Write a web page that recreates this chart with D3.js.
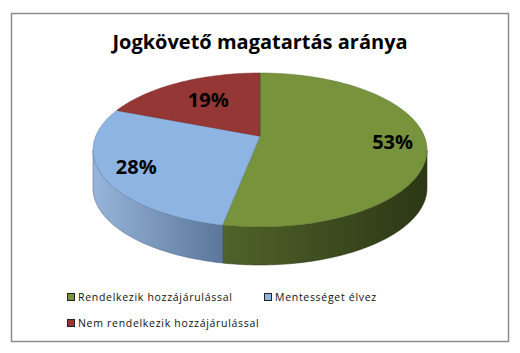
<!DOCTYPE html>
<html>
<head>
<meta charset="utf-8">
<script src="https://cdn.jsdelivr.net/npm/d3@7"></script>
<style>
  body { margin: 0; background: #fff; }
  text { font-family: "Open Sans", "Liberation Sans", Arial, sans-serif; }
</style>
</head>
<body>
<div id="chart"></div>
<script>
{
  const title = "Jogkövető magatartás aránya";
  const categories = ["Rendelkezik hozzájárulással", "Mentességet élvez", "Nem rendelkezik hozzájárulással"];
  const values = [53, 28, 19];

  // colors: top face, wall light -> dark
  const topColors = ["#77933C", "#8DB4E2", "#953735"];
  const wallColors = [["#50632A", "#2C3715"], ["#97B4DA", "#5A769A"], ["#7A2C2A", "#571E1D"]];

  const width = 520;
  const height = 353;
  const cx = 260, cy = 150, rx = 167, ry = 77, depth = 38;
  const tilt = -0.18; // perspective: pie centre sits above ellipse centre

  const svg = d3.select("#chart")
    .append("svg")
    .attr("width", width)
    .attr("height", height);

  svg.append("rect")
    .attr("x", 11.5).attr("y", 13.5)
    .attr("width", 497).attr("height", 328)
    .attr("fill", "#fff")
    .attr("stroke", "#8c8c8c")
    .attr("stroke-width", 1.5);

  svg.append("text")
    .attr("x", width / 2)
    .attr("y", 49)
    .attr("text-anchor", "middle")
    .style("font-size", "20px")
    .style("font-weight", "bold")
    .text(title);

  // project a point of the flat unit pie (angle from 12 o'clock, clockwise) onto the tilted ellipse
  const k = Math.sqrt(1 - tilt * tilt);
  function project(theta, r) {
    const u = r * Math.sin(theta), v = -r * Math.cos(theta);
    const d = 1 + tilt * v;
    return [cx + rx * u * k / d, cy + ry * (v + tilt) / d];
  }

  const pie = d3.pie().sort(null).value(d => d);
  const arcs = pie(values);

  const line = d3.line();
  const steps = 80;
  const frontA = Math.acos(tilt), frontB = 2 * Math.PI - Math.acos(tilt);

  const defs = svg.append("defs");
  const gWalls = svg.append("g");
  const gTops = svg.append("g");

  arcs.forEach((a, i) => {
    // visible outer wall
    const s = Math.max(a.startAngle, frontA), e = Math.min(a.endAngle, frontB);
    if (e > s) {
      const ts = d3.range(steps + 1).map(j => s + (e - s) * j / steps);
      const topPts = ts.map(t => project(t, 1));
      const botPts = topPts.slice().reverse().map(p => [p[0], p[1] + depth]);
      const xs = topPts.map(p => p[0]);
      const grad = defs.append("linearGradient")
        .attr("id", "wall" + i)
        .attr("gradientUnits", "userSpaceOnUse")
        .attr("x1", d3.min(xs)).attr("x2", d3.max(xs))
        .attr("y1", 0).attr("y2", 0);
      grad.append("stop").attr("offset", 0).attr("stop-color", wallColors[i][0]);
      grad.append("stop").attr("offset", 1).attr("stop-color", wallColors[i][1]);
      gWalls.append("path")
        .attr("d", line(topPts.concat(botPts)) + "Z")
        .attr("fill", "url(#wall" + i + ")")
        .attr("stroke", d3.color(wallColors[i][1]).darker(0.6))
        .attr("stroke-width", 0.5);
    }

    // top face
    const ts = d3.range(steps + 1).map(j => a.startAngle + (a.endAngle - a.startAngle) * j / steps);
    const pts = [project(0, 0)].concat(ts.map(t => project(t, 1)));
    gTops.append("path")
      .attr("d", line(pts) + "Z")
      .attr("fill", topColors[i])
      .attr("stroke", d3.color(topColors[i]).darker(0.8))
      .attr("stroke-width", 0.5);
  });

  // percent labels
  const total = d3.sum(values);
  svg.append("g").selectAll("text")
    .data(arcs)
    .enter()
    .append("text")
    .each(function(d) {
      const mid = (d.startAngle + d.endAngle) / 2;
      const r = d.value / total < 0.25 ? 0.65 : 0.8;
      const p = project(mid, r);
      d3.select(this).attr("x", p[0] + (r < 0.8 ? 3 : 0)).attr("y", p[1]);
    })
    .attr("dy", "0.36em")
    .attr("text-anchor", "middle")
    .style("font-size", "20px")
    .style("font-weight", "bold")
    .text(d => Math.round(d.value / total * 100) + "%");

  // legend
  const legend = svg.append("g").selectAll("g")
    .data(categories)
    .enter()
    .append("g")
    .attr("transform", (d, i) => `translate(${i % 2 === 0 ? 67 : 264}, ${297 + Math.floor(i / 2) * 26})`);

  legend.append("rect")
    .attr("x", 0.5).attr("y", -3.5)
    .attr("width", 7).attr("height", 7)
    .attr("fill", (d, i) => topColors[i])
    .attr("stroke", "#222")
    .attr("stroke-width", 1);

  legend.append("text")
    .attr("x", 11)
    .attr("y", 4)
    .style("font-size", "10.5px")
    .style("letter-spacing", "0.7px")
    .attr("fill", "#111")
    .text(d => d);
}
</script>
</body>
</html>
